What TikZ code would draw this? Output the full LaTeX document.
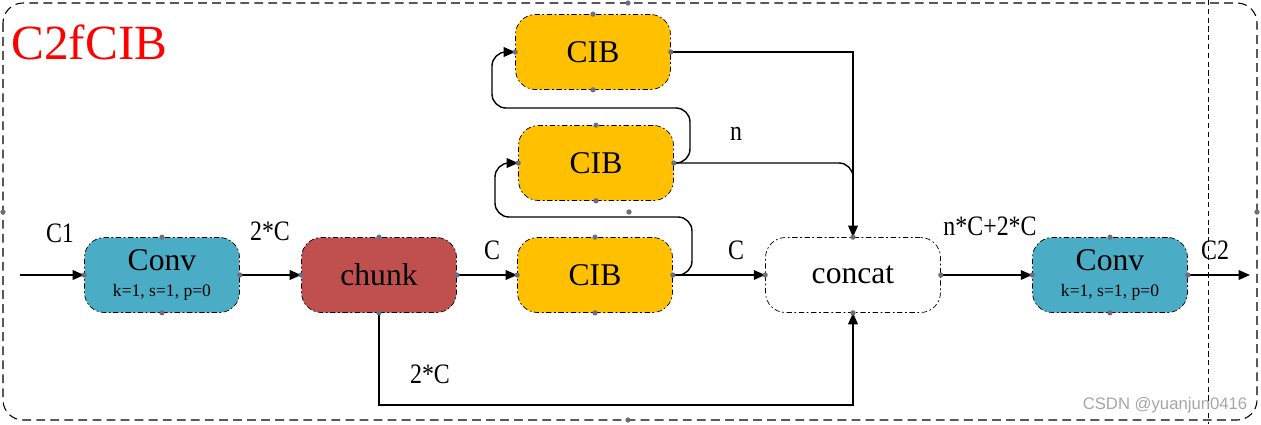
\documentclass[tikz,border=0pt]{standalone}
\usepackage{fontspec}
\setmainfont{Liberation Serif}
\newfontfamily\labelfont[FakeStretch=0.85]{Liberation Serif}
\newfontfamily\titlefont{Liberation Serif}
\newfontfamily\markfont{Liberation Sans}
\usetikzlibrary{arrows.meta}
\usetikzlibrary{positioning}
\definecolor{convblue}{HTML}{4BACC6}
\definecolor{chunkred}{HTML}{C0504D}
\definecolor{cibyellow}{HTML}{FFC000}
\definecolor{handlegray}{HTML}{6E6E80}
\tikzset{
% Two block styles: filled and empty
block/.style={rectangle,rounded corners=0.4cm,draw=black,thin,dash pattern=on 3pt off 1.5pt on 1pt off 1.5pt,minimum width=3.1cm,minimum height=1.5cm,inner sep=0pt,align=center,font=\fontsize{18}{20}\selectfont},
hollow block/.style={block,fill=white}
}
\newcommand{\handles}[1]{%
  \foreach \a in {north,south,east,west}
    \fill[handlegray] (#1.\a) circle (1.5pt);}

\begin{document}
\begin{tikzpicture}[x=0.02cm,y=-0.02cm,line width=0.8pt]
		% Styles for links and labels
		\tikzstyle{link}=[-{Triangle[length=6.5pt,width=5.5pt]}];
		\tikzstyle{size label}=[font=\labelfont\fontsize{16}{18}\selectfont];
		\useasboundingbox (0,0) rectangle (1261,424);
		% Frame of the module
		\draw[line width=0.6pt,dash pattern=on 5pt off 3pt,rounded corners=0.4cm] (3,3) rectangle (1257,420);
		\draw[line width=0.5pt,dash pattern=on 3pt off 2pt] (1208,0) -- (1208,424);
		\node[anchor=west,text=red,font=\titlefont\fontsize{28}{32}\selectfont] (title) at (5,42) {C2fCIB};
		% The blocks
		\node[block,fill=convblue] (conv1) at (162,275) {Conv\\[-5pt]{\fontsize{10}{11}\selectfont k=1, s=1, p=0}};
		\node[block,fill=chunkred] (chunk) at (379,275) {chunk};
		\node[block,fill=cibyellow] (cib1) at (595,275) {CIB};
		\node[block,fill=cibyellow] (cib2) at (596,163) {CIB};
		\node[block,fill=cibyellow] (cib3) at (593,52) {CIB};
		\node[hollow block,minimum width=3.5cm] (concat) at (853,275) {concat};
		\node[block,fill=convblue] (conv2) at (1110,275) {Conv\\[-5pt]{\fontsize{10}{11}\selectfont k=1, s=1, p=0}};
		\coordinate (in) at (20,275);
		\coordinate (out) at (1250,275);
		% Main line
		\draw[link] (in) -- (conv1);
		\draw[link] (conv1) -- (chunk);
		\draw[link] (chunk) -- (cib1);
		\draw[link] (cib1) -- (concat);
		\draw[link] (concat) -- (conv2);
		\draw[link] (conv2) -- (out);
		% Repeated CIB blocks
		\draw[link,rounded corners=8pt] (cib1.east) -- (692,275) -- (692,217) -- (495,217) -- (495,163) -- (cib2.west);
		\draw[link,rounded corners=8pt] (cib2.east) -- (690,163) -- (690,108) -- (492,108) -- (492,52) -- (cib3.west);
		\draw[link] (cib3.east) -| (concat.north);
		\draw[rounded corners=8pt] (cib2.east) -| (concat.north);
		\draw[link] (chunk.south) -- ++(0,92) -| (concat.south);
		% Handles
		\handles{conv1}\handles{chunk}\handles{cib1}\handles{cib2}\handles{cib3}\handles{concat}\handles{conv2}
		\foreach \p in {(628,3),(3,212),(1257,212),(628,420),(629,212)}
			\fill[handlegray] \p circle (1.5pt);
		% Channel labels
		\node[size label] (c1) at (60,233) {C1};
		\node[size label] (c2a) at (270,231) {2*C};
		\node[size label] (c3) at (492,250) {C};
		\node[size label] (c4) at (736,250) {C};
		\node[size label] (c5) at (990,226) {n*C+2*C};
		\node[size label] (c6) at (1215,250) {C2};
		\node[size label] (c7) at (430,374) {2*C};
		\node[size label] (c8) at (736,134) {n};
		\node[text=gray!70,font=\markfont\fontsize{9.5}{11}\selectfont] (mark) at (1165,405) {CSDN @yuanjun0416};
	\end{tikzpicture}
\end{document}
